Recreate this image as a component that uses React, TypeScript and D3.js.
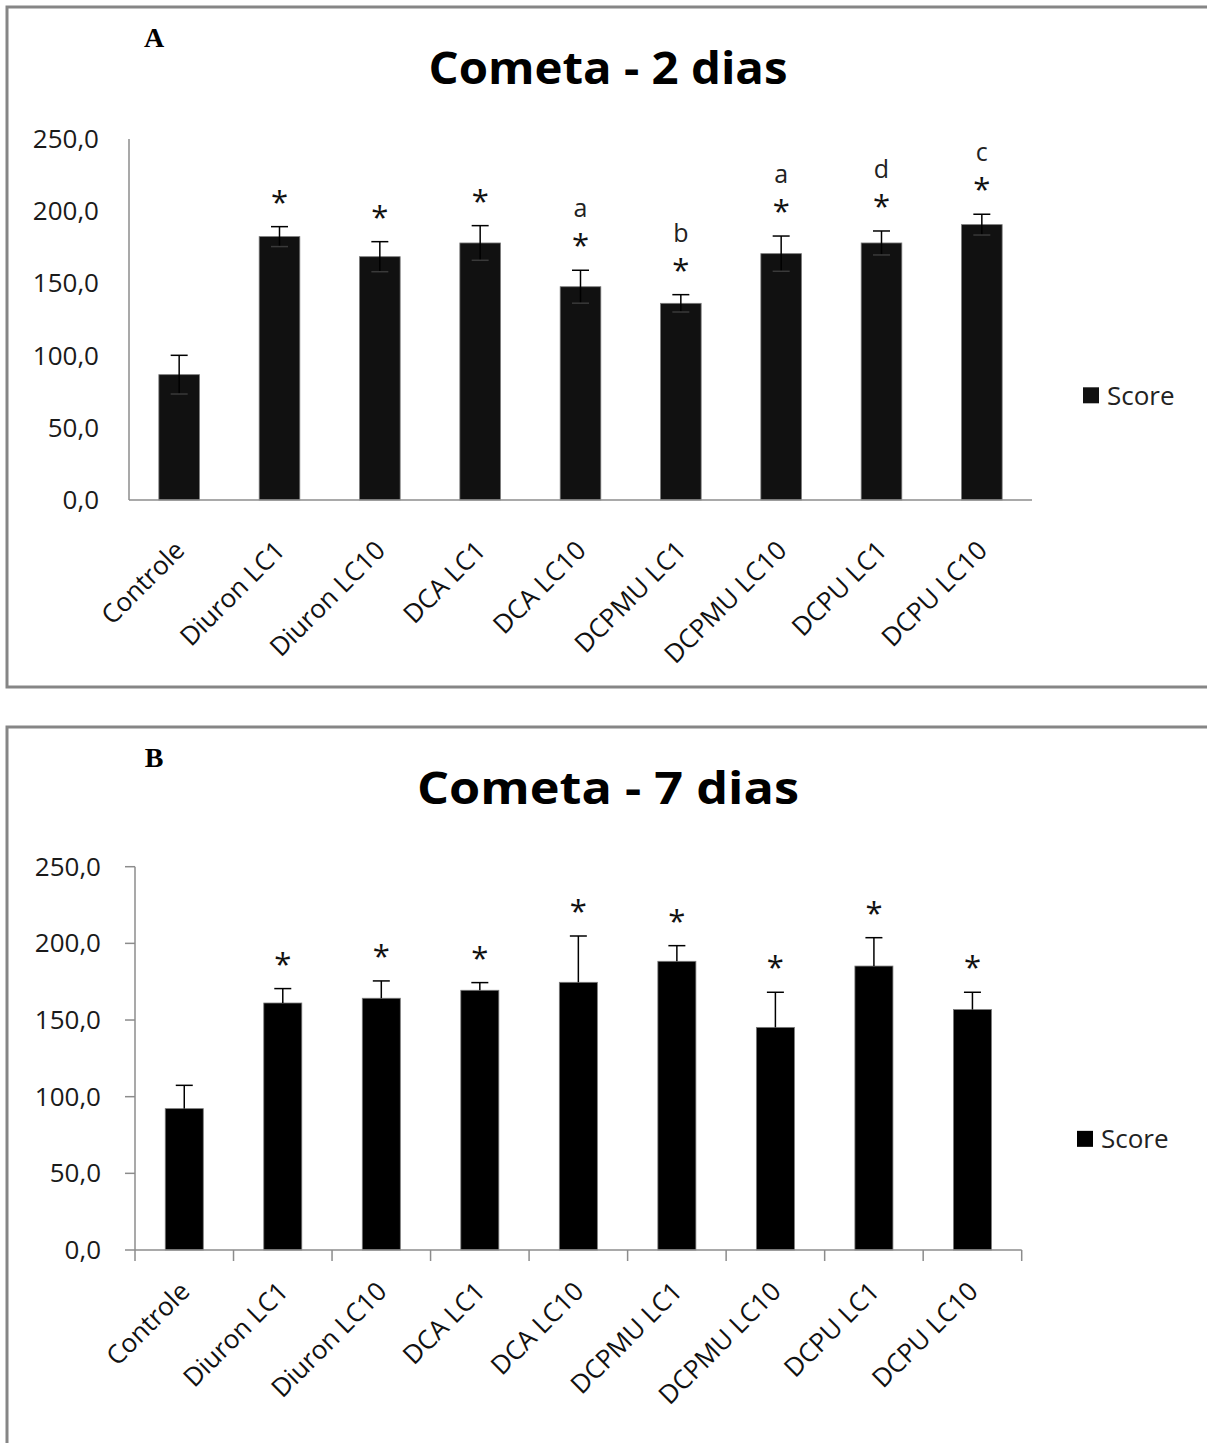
import * as d3 from "d3";

// categories and values
const categories = [
  "Controle",
  "Diuron LC1",
  "Diuron LC10",
  "DCA LC1",
  "DCA LC10",
  "DCPMU LC1",
  "DCPMU LC10",
  "DCPU LC1",
  "DCPU LC10",
];

const score2 = [86.8, 182.4, 168.5, 178.0, 147.7, 136.2, 170.6, 178.0, 190.7];
const err2 = [13.4, 6.9, 10.4, 12.0, 11.4, 6.0, 12.2, 8.3, 7.2];
const stars2 = ["", "*", "*", "*", "*", "*", "*", "*", "*"];
const letters2 = ["", "", "", "", "a", "b", "a", "d", "c"];

const score7 = [92.2, 161.1, 164.2, 169.4, 174.6, 188.3, 145.2, 185.2, 156.8];
const err7 = [15.2, 9.4, 11.3, 5.0, 30.2, 10.2, 22.9, 18.5, 11.3];
const stars7 = ["", "*", "*", "*", "*", "*", "*", "*", "*"];
const letters7 = ["", "", "", "", "", "", "", "", ""];

const yTicks = [0, 50, 100, 150, 200, 250];
const seriesName = "Score";

const FONT = "'Open Sans', 'DejaVu Sans', sans-serif";
const ptBR = d3.formatLocale({ decimal: ",", thousands: ".", grouping: [3], currency: ["R$", ""] });
const fmt = ptBR.format(".1f");

type PanelProps = {
  top: number; // frame top
  letter: string;
  title: string;
  titleWidth: number;
  values: number[];
  errors: number[];
  stars: string[];
  letters: string[];
  plot: { left: number; right: number; top: number; bottom: number };
  barPad: number;
  ticks: boolean; // excel style tick marks on axes
  barFill: string;
  lowerWhisker: boolean;
  labelDy: number;
  legendX: number;
};

const Panel = (p: PanelProps) => {
  const xScale = d3
    .scaleBand<string>()
    .domain(categories)
    .range([p.plot.left, p.plot.right])
    .paddingInner(p.barPad)
    .paddingOuter(p.barPad / 2);

  const yScale = d3.scaleLinear().domain([0, 250]).range([p.plot.bottom, p.plot.top]);
  const step = xScale.step();
  const bw = xScale.bandwidth();
  const capW = 17;
  // legend sits a bit below the middle of the plot, like excel put it
  const legY = p.plot.top + 0.71 * (p.plot.bottom - p.plot.top);

  return (
    <g>
      {/* frame */}
      <rect
        x={7}
        y={p.top}
        width={1400}
        height={p.top === 7 ? 680 : 900}
        fill="white"
        stroke="#868686"
        strokeWidth={3}
      />
      <text
        x={154}
        y={p.top + 40}
        textAnchor="middle"
        fontFamily="'Liberation Serif', 'Times New Roman', serif"
        fontWeight="bold"
        fontSize={28}
      >
        {p.letter}
      </text>
      <text
        x={608}
        y={p.top + 77}
        textAnchor="middle"
        fontFamily={FONT}
        fontWeight="bold"
        fontSize={44}
        textLength={p.titleWidth}
        lengthAdjust="spacingAndGlyphs"
      >
        {p.title}
      </text>

      {/* y axis */}
      <line x1={p.plot.left} x2={p.plot.left} y1={p.plot.top} y2={p.plot.bottom} stroke="#8c8c8c" strokeWidth={1.5} />
      {yTicks.map((t) => (
        <g key={t}>
          {p.ticks && (
            <line x1={p.plot.left - 10} x2={p.plot.left} y1={yScale(t)} y2={yScale(t)} stroke="#8c8c8c" strokeWidth={1.5} />
          )}
          <text
            x={p.plot.left - (p.ticks ? 34 : 30)}
            y={yScale(t) + 9}
            textAnchor="end"
            fontFamily={FONT}
            fontSize={26}
            fill="#1a1a1a"
          >
            {fmt(t)}
          </text>
        </g>
      ))}

      {/* bars */}
      {categories.map((c, i) => {
        const x = xScale(c) ?? 0;
        const cx = x + bw / 2;
        const v = p.values[i];
        const e = p.errors[i];
        const yTop = yScale(v + e);
        const starY = yTop - 31;
        return (
          <g key={c}>
            <rect
              x={x}
              y={yScale(v)}
              width={bw}
              height={yScale(0) - yScale(v)}
              fill={p.barFill}
              stroke="#7a7a7a"
              strokeWidth={0.8}
            />
            <line x1={cx} x2={cx} y1={yTop} y2={p.lowerWhisker ? yScale(v - e) : yScale(v)} stroke="#000" strokeWidth={1.5} />
            <line x1={cx - capW / 2} x2={cx + capW / 2} y1={yTop} y2={yTop} stroke="#000" strokeWidth={1.5} />
            {p.lowerWhisker && (
              <line
                x1={cx - capW / 2}
                x2={cx + capW / 2}
                y1={yScale(v - e)}
                y2={yScale(v - e)}
                stroke="#3a3a3a"
                strokeWidth={1.5}
              />
            )}
            {p.stars[i] && (
              <text x={cx} y={starY + 17} textAnchor="middle" fontFamily={FONT} fontSize={31} fill="#111">
                {p.stars[i]}
              </text>
            )}
            {p.letters[i] && (
              <text x={cx} y={starY - 22} textAnchor="middle" fontFamily={FONT} fontSize={25} fill="#222">
                {p.letters[i]}
              </text>
            )}
            <text
              transform={`translate(${cx + 7}, ${p.plot.bottom + p.labelDy}) rotate(-45)`}
              textAnchor="end"
              fontFamily={FONT}
              fontSize={26}
              fill="#111"
            >
              {c}
            </text>
          </g>
        );
      })}

      {/* x axis */}
      <line x1={p.plot.left} x2={p.plot.right} y1={p.plot.bottom} y2={p.plot.bottom} stroke="#8c8c8c" strokeWidth={1.5} />
      {p.ticks &&
        d3.range(categories.length + 1).map((k) => (
          <line
            key={k}
            x1={p.plot.left + k * step}
            x2={p.plot.left + k * step}
            y1={p.plot.bottom}
            y2={p.plot.bottom + 11}
            stroke="#8c8c8c"
            strokeWidth={1.5}
          />
        ))}

      {/* legend */}
      <rect x={p.legendX} y={legY - 8} width={16} height={16} fill={p.barFill} />
      <text x={p.legendX + 24} y={legY + 9.5} fontFamily={FONT} fontSize={26} fill="#222">
        {seriesName}
      </text>
    </g>
  );
};

export default function App() {
  return (
    <svg
      width={1207}
      height={1443}
      style={{ position: "absolute", left: 0, top: 0, background: "white" }}
    >
      <Panel
        top={7}
        letter="A"
        title="Cometa - 2 dias"
        titleWidth={359}
        values={score2}
        errors={err2}
        stars={stars2}
        letters={letters2}
        plot={{ left: 129, right: 1032, top: 139, bottom: 500 }}
        barPad={0.595}
        ticks={false}
        barFill="#111"
        lowerWhisker={true}
        labelDy={52}
        legendX={1083}
      />
      <Panel
        top={727}
        letter="B"
        title="Cometa - 7 dias"
        titleWidth={382}
        values={score7}
        errors={err7}
        stars={stars7}
        letters={letters7}
        plot={{ left: 135, right: 1021.7, top: 866.7, bottom: 1250 }}
        barPad={0.614}
        ticks={true}
        barFill="#000"
        lowerWhisker={false}
        labelDy={43}
        legendX={1077}
      />
    </svg>
  );
}
